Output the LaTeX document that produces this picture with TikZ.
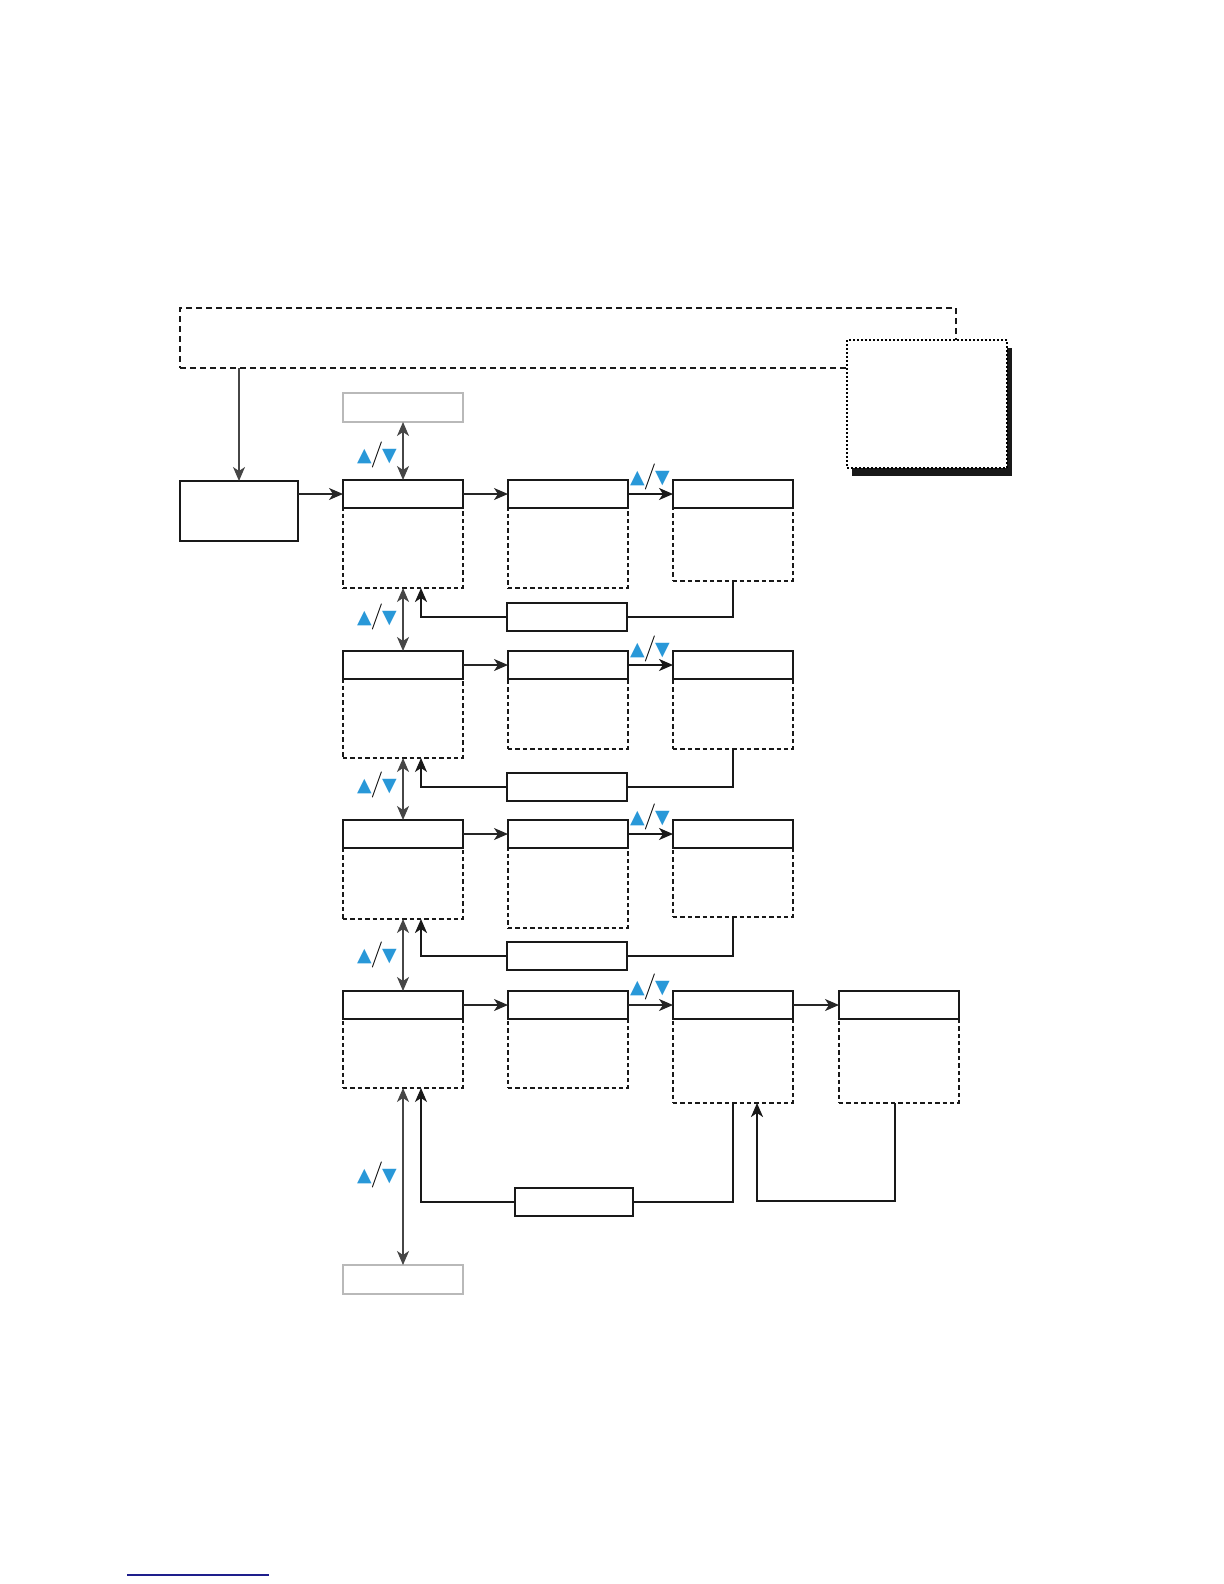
\documentclass[tikz,border=0pt]{standalone}
\usepackage{fontspec}
\newfontfamily\symfont{DejaVu Sans}
\usetikzlibrary{arrows.meta,shadows}
\definecolor{tri}{RGB}{41,152,216}
\definecolor{lnc}{RGB}{70,70,70}
\definecolor{navyl}{RGB}{30,30,140}
\definecolor{grayb}{RGB}{185,185,185}
\newcommand\updownsym{{\symfont\fontsize{9.5}{9.5}\selectfont\color{tri}▲}\kern-0.6pt{\fontsize{13}{13}\selectfont /}\kern-0.6pt{\symfont\fontsize{9.5}{9.5}\selectfont\color{tri}▼}}
\begin{document}
\begin{tikzpicture}[x=0.5pt,y=-0.5pt,
  base/.style={inner sep=0pt, outer sep=0pt, anchor=north west},
  hdr/.style={base, draw=black!90, line width=0.7pt, fill=white, minimum width=60pt, minimum height=14pt},
  bodyb/.style={base, draw=black!90, line width=0.6pt, dash pattern=on 2.2pt off 1.5pt, minimum width=60pt},
  retbox/.style={base, draw=black!90, line width=0.7pt, fill=white, minimum width=60pt, minimum height=14pt},
  graybox/.style={base, draw=grayb, line width=0.7pt, minimum width=60pt, minimum height=14.5pt},
  tip/.style={-{Stealth[length=7pt,width=6pt,inset=2pt]}},
  harr/.style={tip, draw=black!85, line width=0.7pt},
  harrb/.style={tip, draw=black!90, line width=1pt},
  varr/.style={{Stealth[length=7pt,width=6pt,inset=2pt]}-{Stealth[length=7pt,width=6pt,inset=2pt]}, draw=lnc, line width=0.7pt},
  ret/.style={draw=black!90, line width=0.6pt},
  retb/.style={draw=black!90, line width=1.1pt},
  sym/.style={inner sep=0pt}
]
\useasboundingbox (0,0) rectangle (1224,1584);

% top dashed box and note box
\node[base, draw=black!90, line width=0.6pt, dash pattern=on 3pt off 2pt, minimum width=388pt, minimum height=30pt] (big) at (180,308) {};
\node[base, draw=black, line width=1pt, dash pattern=on 1pt off 1pt, fill=white, minimum width=80pt, minimum height=64pt,
  drop shadow={shadow xshift=2.5pt, shadow yshift=-4pt, fill=black!90, opacity=1}] (note) at (847,340) {};

% start box
\node[base, draw=black!90, line width=0.7pt, minimum width=59pt, minimum height=30pt] (start) at (180,481) {};

% gray boxes
\node[graybox] (topg) at (343,393) {};
\node[graybox] (botg) at (343,1265) {};

% row 1
\node[bodyb, minimum height=40pt] (b11) at (343,508) {};
\node[bodyb, minimum height=40pt] (b12) at (508,508) {};
\node[bodyb, minimum height=36.5pt] (b13) at (673,508) {};
\node[hdr] (h11) at (343,480) {};
\node[hdr] (h12) at (508,480) {};
\node[hdr] (h13) at (673,480) {};
\node[retbox] (r1) at (507,603) {};

% row 2
\node[bodyb, minimum height=39.5pt] (b21) at (343,679) {};
\node[bodyb, minimum height=35pt] (b22) at (508,679) {};
\node[bodyb, minimum height=35pt] (b23) at (673,679) {};
\node[hdr] (h21) at (343,651) {};
\node[hdr] (h22) at (508,651) {};
\node[hdr] (h23) at (673,651) {};
\node[retbox] (r2) at (507,773) {};

% row 3
\node[bodyb, minimum height=35.5pt] (b31) at (343,848) {};
\node[bodyb, minimum height=40pt] (b32) at (508,848) {};
\node[bodyb, minimum height=34.5pt] (b33) at (673,848) {};
\node[hdr] (h31) at (343,820) {};
\node[hdr] (h32) at (508,820) {};
\node[hdr] (h33) at (673,820) {};
\node[retbox] (r3) at (507,942) {};

% row 4
\node[bodyb, minimum height=34.5pt] (b41) at (343,1019) {};
\node[bodyb, minimum height=34.5pt] (b42) at (508,1019) {};
\node[bodyb, minimum height=42pt] (b43) at (673,1019) {};
\node[bodyb, minimum height=42pt] (b44) at (839,1019) {};
\node[hdr] (h41) at (343,991) {};
\node[hdr] (h42) at (508,991) {};
\node[hdr] (h43) at (673,991) {};
\node[hdr] (h44) at (839,991) {};
\node[retbox, minimum width=59pt] (r4) at (515,1188) {};

% connectors
\draw[tip, draw=lnc, line width=0.7pt] (big.south -| start.north) -- (start.north);
\draw[harr] (start.east |- h11.west) -- (h11.west);
\draw[varr] (topg.south) -- (h11.north);

\draw[harr] (h11.east) -- (h12.west);
\draw[harrb] (h12.east) -- (h13.west);
\draw[harr] (h21.east) -- (h22.west);
\draw[harrb] (h22.east) -- (h23.west);
\draw[harr] (h31.east) -- (h32.west);
\draw[harrb] (h32.east) -- (h33.west);
\draw[harr] (h41.east) -- (h42.west);
\draw[harr] (h42.east) -- (h43.west);
\draw[harr] (h43.east) -- (h44.west);

\draw[varr] (b11.south) -- (h21.north);
\draw[varr] (b21.south) -- (h31.north);
\draw[varr] (b31.south) -- (h41.north);
\draw[varr] (b41.south) -- (botg.north);

\draw[retb] (b13.south) |- (r1.east);
\draw[retb, tip] (r1.west) -| ([xshift=9pt]b11.south);
\draw[ret] (b23.south) |- (r2.east);
\draw[ret, tip] (r2.west) -| ([xshift=9pt]b21.south);
\draw[retb] (b33.south) |- (r3.east);
\draw[retb, tip] (r3.west) -| ([xshift=9pt]b31.south);
\draw[ret] (b43.south) |- (r4.east);
\draw[ret, tip] (r4.west) -| ([xshift=9pt]b41.south);
\coordinate (c44) at ([xshift=-2pt,yshift=-49pt]b44.south);
\draw[retb, tip] ([xshift=-2pt]b44.south) -- (c44) -| ([xshift=12pt]b43.south);

% up/down symbols
\node[sym] (sv1) at (377,455) {\updownsym};
\node[sym] (sv2) at (377,617) {\updownsym};
\node[sym] (sv3) at (377,785) {\updownsym};
\node[sym] (sv4) at (377,955) {\updownsym};
\node[sym] (sv5) at (377,1175) {\updownsym};
\node[sym] (sh1) at (650,477) {\updownsym};
\node[sym] (sh2) at (650,649) {\updownsym};
\node[sym] (sh3) at (650,817) {\updownsym};
\node[sym] (sh4) at (650,987) {\updownsym};

% bottom link underline
\draw[navyl, line width=1pt] (127,1575) -- (269,1575);
\end{tikzpicture}
\end{document}
